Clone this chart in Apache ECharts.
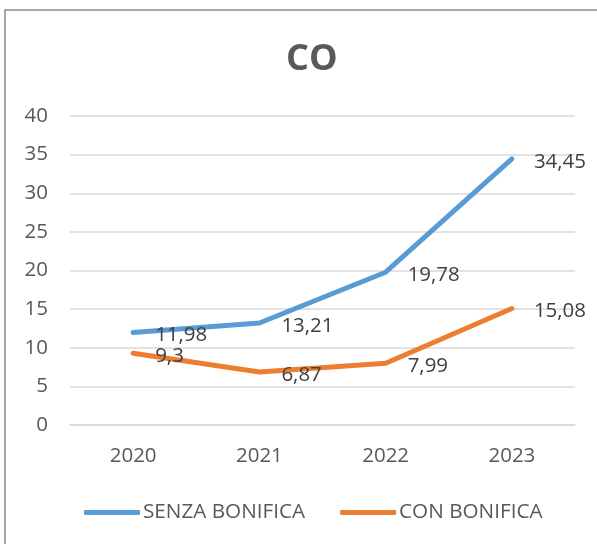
<!DOCTYPE html>
<html style="height: 100%">
<head>
<meta charset="utf-8">
<script src="https://cdn.jsdelivr.net/npm/echarts@6/dist/echarts.min.js"></script>
</head>
<body style="height: 100%; margin: 0; background: #fff">
<div id="container" style="width: 597px; height: 544px;"></div>
<script>
// dati del grafico
var anni = ['2020', '2021', '2022', '2023'];
var senzaBonifica = [11.98, 13.21, 19.78, 34.45];
var conBonifica = [9.3, 6.87, 7.99, 15.08];
var nomiSerie = ['SENZA BONIFICA', 'CON BONIFICA'];

var fontName = '"Open Sans", "Noto Sans", sans-serif';

function virgola(p) {
	return String(p.value).replace('.', ',');
}

var myChart = echarts.init(document.getElementById('container'));
var option = {
	backgroundColor: '#fff',
	animation: false,
	graphic: [{
		type: 'rect',
		shape: { x: 5, y: 10, width: 700, height: 700 },
		style: { fill: 'none', stroke: '#8a8a8a', lineWidth: 1.5 }
	}],
	title: {
		text: 'CO',
		left: 281,
		top: 37,
		textStyle: {
			fontFamily: fontName,
			fontSize: 36,
			fontWeight: 'bold',
			color: '#595959'
		}
	},
	legend: {
		data: nomiSerie,
		bottom: 16,
		left: 79,
		icon: 'roundRect',
		itemWidth: 56,
		itemHeight: 5,
		itemGap: 35,
		textStyle: {
			fontFamily: fontName,
			fontSize: 20.7,
			color: '#595959',
			padding: [0, 0, 0, -2]
		}
	},
	grid: {
		left: 70,
		right: 22,
		top: 116,
		bottom: 119
	},
	xAxis: {
		type: 'category',
		data: anni,
		boundaryGap: true,
		axisLine: { lineStyle: { color: '#d9d9d9', width: 1.5 } },
		axisTick: { show: false },
		axisLabel: {
			margin: 21,
			fontFamily: fontName,
			fontSize: 20.5,
			color: '#595959'
		}
	},
	yAxis: {
		type: 'value',
		min: 0,
		max: 40,
		interval: 5,
		axisLine: { show: false },
		axisTick: { show: false },
		splitLine: { lineStyle: { color: '#d9d9d9', width: 1.5 } },
		axisLabel: {
			margin: 22,
			fontFamily: fontName,
			fontSize: 20.5,
			color: '#595959'
		}
	},
	series: [{
		name: nomiSerie[0],
		type: 'line',
		data: senzaBonifica,
		symbol: 'circle',
		symbolSize: 0,
		itemStyle: { color: '#5b9bd5' },
		lineStyle: { width: 5, color: '#5b9bd5', cap: 'round', join: 'round' },
		label: {
			show: true,
			position: 'right',
			distance: 22,
			offset: [0, 3],
			formatter: virgola,
			fontFamily: fontName,
			fontSize: 20.5,
			color: '#404040'
		}
	}, {
		name: nomiSerie[1],
		type: 'line',
		data: conBonifica,
		symbol: 'circle',
		symbolSize: 0,
		itemStyle: { color: '#ed7d31' },
		lineStyle: { width: 5, color: '#ed7d31', cap: 'round', join: 'round' },
		label: {
			show: true,
			position: 'right',
			distance: 22,
			offset: [0, 3],
			formatter: virgola,
			fontFamily: fontName,
			fontSize: 20.5,
			color: '#404040'
		}
	}]
};
myChart.setOption(option, true);
</script>
</body>
</html>
